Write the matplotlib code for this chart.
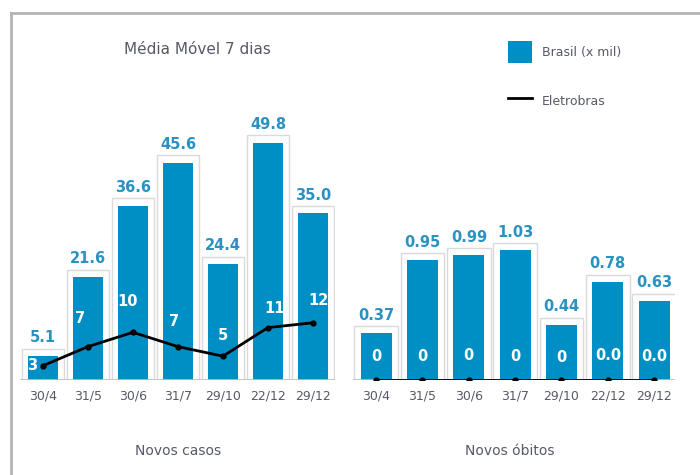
import matplotlib
matplotlib.use("Agg")
import matplotlib.pyplot as plt
from matplotlib.patches import Rectangle
from matplotlib.lines import Line2D

# Data
datas = ['30/4', '31/5', '30/6', '31/7', '29/10', '22/12', '29/12']
casos_brasil = [5.1, 21.6, 36.6, 45.6, 24.4, 49.8, 35.0]
casos_eletrobras = [3, 7, 10, 7, 5, 11, 12]
obitos_brasil = [0.37, 0.95, 0.99, 1.03, 0.44, 0.78, 0.63]
obitos_eletrobras = [0, 0, 0, 0, 0, 0, 0]
obitos_eletrobras_txt = ['0', '0', '0', '0', '0', '0.0', '0.0']

BLUE = '#008fc4'
LABEL_BLUE = '#2a92c2'
GRAY_TXT = '#555a66'

W, H = 700, 475
fig = plt.figure(figsize=(7, 4.75), dpi=100)
fig.patch.set_facecolor('white')

# outer frame (open at right and bottom)
fig.add_artist(Line2D([10.5 / W, 10.5 / W], [0, 1 - 12.5 / H], transform=fig.transFigure,
                      color='#b4b4b4', lw=2))
fig.add_artist(Line2D([10.5 / W, 1], [1 - 12.5 / H, 1 - 12.5 / H], transform=fig.transFigure,
                      color='#b4b4b4', lw=2))


def px_axes(x0, x1, y_base, height):
    return fig.add_axes([x0 / W, (H - y_base) / H, (x1 - x0) / W, height / H])


def draw_panel(ax, values, line_vals, line_txt, fmt, pad_y, xoffs, yoffs):
    x = list(range(len(values)))
    # white halo boxes behind bars
    for xi, v in zip(x, values):
        ax.add_patch(Rectangle((xi - 0.47, 0), 0.94, v + pad_y, facecolor='white',
                               edgecolor='#dadada', lw=1, zorder=1))
    ax.bar(x, values, width=0.67, color=BLUE, zorder=2)
    for xi, v in zip(x, values):
        ax.annotate(fmt.format(v), (xi, v), xytext=(0, 13), textcoords='offset points',
                    ha='center', va='center', fontsize=10.5, fontweight='bold',
                    color=LABEL_BLUE, zorder=5)
    ax.plot(x, line_vals, color='black', lw=2, marker='o', ms=3.5, zorder=4)
    for xi, v, t, dx, dy in zip(x, line_vals, line_txt, xoffs, yoffs):
        ax.annotate(t, (xi, v), xytext=(dx, dy), textcoords='offset points',
                    ha='center', va='center', fontsize=10.5, fontweight='bold',
                    color='white', zorder=5)
    ax.axhline(0, color='#bdbdbd', lw=1.2, zorder=3)
    ax.set_xticks(x)
    ax.set_xticklabels(datas, fontsize=9, color=GRAY_TXT)
    ax.tick_params(axis='x', length=0, pad=7)
    ax.set_yticks([])
    for s in ax.spines.values():
        s.set_visible(False)
    ax.patch.set_alpha(0)


# Left panel: novos casos
ax1 = px_axes(20, 335, 380, 286)
ax1.set_xlim(-0.51, 6.49)
ax1.set_ylim(0, 60)
draw_panel(ax1, casos_brasil, casos_eletrobras, [str(v) for v in casos_eletrobras], '{:.1f}', 1.5,
           [-8, -6, -4, -3, 0, 5, 4], [0, 20, 22, 18, 15, 14, 16])

# Right panel: novos obitos
ax2 = px_axes(353, 675, 380, 286)
ax2.set_xlim(-0.5, 6.45)
ax2.set_ylim(0, 2.27)
draw_panel(ax2, obitos_brasil, obitos_eletrobras, obitos_eletrobras_txt, '{:.2f}', 0.055,
           [0] * 7, [17, 17, 18, 17, 16, 18, 17])

fig.text(197 / W, 1 - 50 / H, 'Média Móvel 7 dias', ha='center', va='center',
         fontsize=11, color=GRAY_TXT)
fig.text(178 / W, 1 - 451 / H, 'Novos casos', ha='center', va='center', fontsize=10, color=GRAY_TXT)
fig.text(510 / W, 1 - 451 / H, 'Novos óbitos', ha='center', va='center', fontsize=10, color=GRAY_TXT)

handles = [Rectangle((0, 0), 1, 1, facecolor=BLUE, edgecolor='none'),
           Line2D([], [], color='black', lw=2)]
fig.legend(handles, ['Brasil (x mil)', 'Eletrobras'], loc='upper left',
           bbox_to_anchor=(497 / W, 1 - 30 / H), frameon=False, fontsize=9,
           labelcolor=GRAY_TXT, handlelength=1.9, handleheight=2.3, labelspacing=2.2,
           handletextpad=0.8)

fig.savefig('out.png', dpi=100, facecolor='white')
